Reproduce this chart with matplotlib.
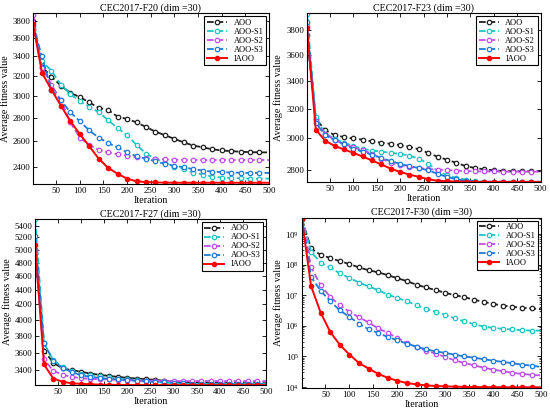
import numpy as np
import matplotlib.pyplot as plt
import matplotlib.ticker as ticker

#--------- data ---------
iters = [1] + list(range(20, 501, 20))

names = ['AOO', 'AOO-S1', 'AOO-S2', 'AOO-S3', 'IAOO']

# F20
f20_aoo = [3800, 3290, 3190, 3100, 3030, 2990, 2940, 2890, 2870, 2810, 2790, 2760, 2720,
           2680, 2650, 2620, 2590, 2565, 2550, 2535, 2525, 2520, 2515, 2512, 2510, 2510]
f20_s1 = [3700, 3350, 3250, 3110, 3020, 2950, 2900, 2850, 2780, 2710, 2650, 2570, 2500,
          2460, 2430, 2400, 2380, 2355, 2340, 2325, 2318, 2315, 2312, 2310, 2310, 2310]
f20_s2 = [3880, 3280, 3110, 2960, 2760, 2630, 2570, 2530, 2510, 2495, 2485, 2470, 2462,
          2458, 2455, 2453, 2452, 2451, 2450, 2450, 2450, 2450, 2450, 2450, 2450, 2450]
f20_s3 = [3750, 3400, 3060, 2960, 2850, 2770, 2690, 2630, 2585, 2550, 2510, 2480, 2460,
          2440, 2420, 2405, 2395, 2380, 2370, 2362, 2358, 2355, 2353, 2352, 2352, 2352]
f20_iaoo = [3770, 3230, 3060, 2910, 2770, 2660, 2560, 2460, 2390, 2345, 2310, 2290, 2285,
            2282, 2281, 2280, 2280, 2280, 2280, 2280, 2280, 2280, 2280, 2280, 2280, 2280]

# F23
f23_aoo = [3757, 3131, 3053, 3021, 3007, 2998, 2990, 2979, 2970, 2963, 2955, 2944, 2927,
           2905, 2880, 2862, 2842, 2822, 2810, 2802, 2796, 2792, 2790, 2790, 2790, 2790]
f23_s1 = [3940, 3140, 3030, 2997, 2970, 2950, 2930, 2920, 2913, 2905, 2899, 2888, 2868,
          2837, 2792, 2766, 2750, 2740, 2730, 2727, 2727, 2727, 2727, 2727, 2727, 2727]
f23_s2 = [3838, 3112, 3030, 2987, 2961, 2941, 2921, 2900, 2868, 2844, 2829, 2817, 2810,
          2804, 2800, 2798, 2794, 2792, 2790, 2789, 2789, 2788, 2788, 2788, 2788, 2788]
f23_s3 = [3870, 3100, 3020, 2987, 2961, 2930, 2913, 2893, 2873, 2853, 2837, 2822, 2810,
          2796, 2775, 2756, 2742, 2733, 2728, 2727, 2727, 2727, 2727, 2727, 2727, 2727]
f23_iaoo = [3820, 3057, 2983, 2950, 2927, 2905, 2882, 2857, 2832, 2806, 2786, 2770, 2756,
            2742, 2733, 2730, 2728, 2727, 2726, 2726, 2726, 2726, 2726, 2726, 2726, 2726]

# F27
f27_aoo = [4950, 3623, 3486, 3422, 3405, 3386, 3367, 3353, 3342, 3331, 3321, 3314, 3307,
           3300, 3290, 3280, 3275, 3272, 3270, 3268, 3267, 3266, 3265, 3265, 3265, 3265]
f27_s1 = [5510, 3712, 3515, 3440, 3396, 3367, 3350, 3336, 3325, 3314, 3307, 3297, 3287,
          3280, 3270, 3264, 3258, 3257, 3256, 3256, 3256, 3256, 3256, 3256, 3256, 3256]
f27_s2 = [5000, 3526, 3396, 3356, 3331, 3318, 3310, 3307, 3304, 3300, 3297, 3293, 3292,
          3290, 3287, 3287, 3287, 3287, 3287, 3287, 3287, 3287, 3287, 3287, 3287, 3287]
f27_s3 = [5230, 3712, 3505, 3430, 3382, 3350, 3331, 3321, 3310, 3304, 3297, 3290, 3283,
          3280, 3273, 3267, 3263, 3261, 3260, 3260, 3260, 3260, 3260, 3260, 3260, 3260]
f27_iaoo = [5080, 3467, 3314, 3280, 3264, 3258, 3254, 3250, 3248, 3247, 3246, 3246, 3245,
            3245, 3245, 3245, 3245, 3245, 3245, 3245, 3245, 3245, 3245, 3245, 3245, 3245]

# F30
f30_aoo = [3.1e9, 3.4e8, 2.1e8, 1.65e8, 1.3e8, 1.05e8, 8.1e7, 6.6e7, 5.6e7, 4.55e7, 3.6e7,
           2.9e7, 2.2e7, 1.8e7, 1.47e7, 1.2e7, 1.0e7, 8.7e6, 7.1e6, 6.1e6, 5.2e6, 4.6e6,
           4.2e6, 3.9e6, 3.7e6, 3.5e6]
f30_s1 = [3.4e9, 2.6e8, 1.17e8, 8.1e7, 5.2e7, 3.7e7, 2.6e7, 1.95e7, 1.47e7, 1.05e7, 8.2e6,
          6.4e6, 4.7e6, 3.6e6, 2.9e6, 2.3e6, 1.74e6, 1.4e6, 1.13e6, 9.5e5, 8.6e5, 8.0e5,
          7.6e5, 7.2e5, 7.0e5, 7.0e5]
f30_s2 = [3.3e9, 8.5e7, 2.1e7, 8.9e6, 4.7e6, 2.9e6, 1.9e6, 1.3e6, 8.2e5, 5.9e5, 4.0e5,
          2.8e5, 2.0e5, 1.55e5, 1.23e5, 9.6e4, 7.4e4, 6.1e4, 5.1e4, 4.3e4, 3.7e4, 3.3e4,
          2.9e4, 2.7e4, 2.5e4, 2.4e4]
f30_s3 = [3.2e9, 4.0e7, 1.4e7, 6.4e6, 3.2e6, 1.95e6, 1.18e6, 7.7e5, 5.9e5, 4.3e5, 3.4e5,
          2.6e5, 2.1e5, 1.7e5, 1.47e5, 1.3e5, 1.14e5, 1.0e5, 9.1e4, 8.1e4, 7.3e4, 6.6e4,
          6.0e4, 5.4e4, 5.0e4, 4.5e4]
f30_iaoo = [3.0e9, 2.0e7, 2.7e6, 6.3e5, 2.4e5, 1.15e5, 6.1e4, 4.0e4, 2.7e4, 2.0e4, 1.6e4,
            1.35e4, 1.22e4, 1.13e4, 1.08e4, 1.05e4, 1.03e4, 1.01e4, 1.0e4, 9.9e3, 9.9e3,
            9.8e3, 9.8e3, 9.8e3, 9.8e3, 9.8e3]

panels = [
    ('CEC2017-F20 (dim =30)', [f20_aoo, f20_s1, f20_s2, f20_s3, f20_iaoo],
     (2270, 3900), [2400, 2600, 2800, 3000, 3200, 3400, 3600, 3800]),
    ('CEC2017-F23 (dim =30)', [f23_aoo, f23_s1, f23_s2, f23_s3, f23_iaoo],
     (2725, 3945), [2800, 3000, 3200, 3400, 3600, 3800]),
    ('CEC2017-F27 (dim =30)', [f27_aoo, f27_s1, f27_s2, f27_s3, f27_iaoo],
     (3245, 5515), [3400, 3600, 3800, 4000, 4200, 4400, 4600, 4800, 5000, 5200, 5400]),
    ('CEC2017-F30 (dim =30)', [f30_aoo, f30_s1, f30_s2, f30_s3, f30_iaoo],
     (9300, 3.4e9), [1e4, 1e5, 1e6, 1e7, 1e8, 1e9]),
]

#--------- styles ---------
colors = ['#202020', '#1fc4c4', '#c04ee8', '#1f7ad8', '#ff0000']
lstyles = ['--', '--', '--', '--', '-']

positions = [
    [0.060, 0.552, 0.429, 0.416],
    [0.558, 0.557, 0.425, 0.411],
    [0.064, 0.063, 0.420, 0.404],
    [0.549, 0.056, 0.435, 0.414],
]

plt.rcParams['font.family'] = ['Liberation Serif', 'DejaVu Serif']
plt.rcParams['mathtext.fontset'] = 'stix'

fig = plt.figure(figsize=(5.5, 4.11), dpi=100)

for k, (title, series, ylim, yt) in enumerate(panels):
    ax = fig.add_axes(positions[k])
    for j in range(5):
        if j == 4:
            ax.plot(iters, series[j], lstyles[j], color=colors[j], lw=1.4, marker='o',
                    ms=3, mfc=colors[j], mec=colors[j], markevery=list(range(25)),
                    label=names[j])
        else:
            ax.plot(iters, series[j], lstyles[j], color=colors[j], lw=1.3, marker='o',
                    ms=3.2, mfc='white', mec=colors[j], mew=0.9,
                    markevery=list(range(25)), label=names[j])
    ax.set_yscale('log')
    ax.set_xlim(1, 500)
    ax.set_ylim(*ylim)
    ax.set_xticks(range(50, 501, 50))
    ax.set_yticks(yt)
    if k == 3:
        ax.yaxis.set_major_formatter(ticker.LogFormatterMathtext())
        ax.yaxis.set_minor_locator(ticker.LogLocator(subs=np.arange(2, 10)))
        ax.yaxis.set_minor_formatter(ticker.NullFormatter())
    else:
        ax.yaxis.set_major_formatter(ticker.FuncFormatter(lambda v, p: '%d' % round(v)))
        ax.yaxis.set_minor_locator(ticker.NullLocator())
    ax.tick_params(direction='in', top=True, right=True, labelsize=6.3, length=3,
                   width=0.6, pad=2)
    ax.tick_params(which='minor', direction='in', right=True, length=1.5, width=0.5)
    for s in ax.spines.values():
        s.set_linewidth(0.8)
    ax.set_title(title, fontsize=7.2, pad=2)
    ax.set_xlabel('Iteration', fontsize=7.2, labelpad=1)
    ax.set_ylabel('Average fitness value', fontsize=7.2, labelpad=2)
    leg = ax.legend(loc='upper right', fontsize=6, fancybox=False, edgecolor='black',
                    framealpha=1, handlelength=2.4, borderpad=0.3, labelspacing=0.12,
                    handletextpad=0.8, borderaxespad=0.35)
    leg.get_frame().set_linewidth(0.8)

fig.savefig('out.png', dpi=100)
